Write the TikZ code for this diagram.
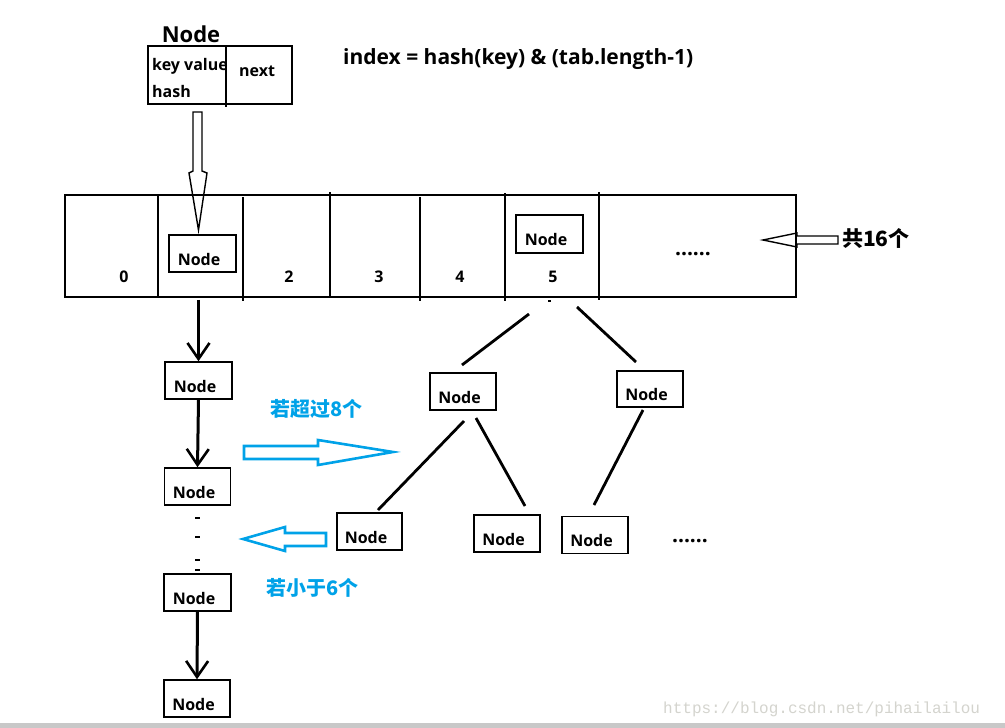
\documentclass[tikz,border=0pt]{standalone}
\usepackage{fontspec}
\setmainfont{Open Sans}
\newfontfamily\cjk{Noto Sans CJK SC}
\newfontfamily\wmfont{Liberation Mono}
\usetikzlibrary{arrows.meta}
\definecolor{pblue}{RGB}{0,162,232}
\definecolor{wmgray}{RGB}{212,212,206}
\definecolor{bargray}{RGB}{200,200,200}
\newcommand\ntxt{\raisebox{-11.5pt}[0pt][0pt]{Node}\kern7pt}
\begin{document}
\begin{tikzpicture}[x=1pt,y=-1pt,
  nd/.style={draw, line width=1.5pt, minimum width=66pt, minimum height=37pt, inner sep=0pt,
    font=\bfseries\fontsize{16}{16}\selectfont},
  lbl/.style={font=\bfseries\fontsize{16}{16}\selectfont, inner sep=0pt, anchor=base},
  cjkl/.style={font=\cjk\bfseries\fontsize{20}{20}\selectfont, inner sep=0pt, anchor=base west},
  thin/.style={line width=1.5pt},
  chain/.style={line width=3pt, -{Straight Barb[length=16pt,width=22pt,line width=2.6pt]}},
  treeline/.style={line width=2.8pt},
  hollow/.style={line width=1.4pt, line join=miter},
  bluearrow/.style={draw=pblue, line width=2.6pt, line join=miter}]
\useasboundingbox (0,0) rectangle (1005,728);
\fill[white] (0,0) rectangle (1005,728);
\fill[bargray] (0,723) rectangle (1005,728);

% top Node structure
\node[lbl, font=\bfseries\fontsize{22}{22}\selectfont] (title) at (191,42) {Node};
\node[draw, thin, minimum width=144pt, minimum height=58pt, inner sep=0pt] (nodebox) at (220,75) {};
\draw[thin] (226,46) coordinate (dvt) -- (226,107) coordinate (dvb);
\node[lbl, anchor=base west] (kv) at (152,70) {key value};
\node[lbl, anchor=base west] (hs) at (152,97) {hash};
\node[lbl, anchor=base west] (nx) at (239,76) {next};

% formula
\node[lbl, anchor=base west, font=\bfseries\fontsize{21}{21}\selectfont] (formula) at (343,64) {index = hash(key) \& (tab.length-1)};

% hollow down arrow
\draw[hollow] (193,112) -- (202,112) -- (202,171) -- (207,173) -- (198.5,230) -- (189,173) -- (193,171) -- cycle;

% array
\node[draw, thin, minimum width=731pt, minimum height=102pt, inner sep=0pt] (arr) at (430.5,246) {};
\foreach \xx/\ya/\yb in {158/194/298, 243/197/301, 330/192/297, 420/197/301, 505/193/301, 599/192/300}
  \draw[thin] (\xx,\ya) -- (\xx,\yb);
\node[lbl] (i0) at (124,282) {0};
\node[lbl] (i2) at (289,282) {2};
\node[lbl] (i3) at (379,282) {3};
\node[lbl] (i4) at (460,282) {4};
\node[lbl] (i5) at (553,282) {5};
\node[lbl, font=\bfseries\fontsize{21}{21}\selectfont] (adots) at (693,255) {......};
\node[nd, minimum width=67pt] (cell1) at (202.5,253.5) {\ntxt};
\node[nd, minimum width=67pt, minimum height=38pt] (cell5) at (549.5,234) {\ntxt};
\draw[thin] (548,301) -- (551,301);

% 16 label and arrow
\draw[hollow] (763,240) -- (797,233) -- (797,236) -- (838,236) -- (838,244) -- (797,244) -- (797,247) -- cycle;
\node[cjkl, font=\cjk\bfseries\fontsize{21}{21}\selectfont] (tot) at (842,246) {共16个};

% chain
\node[nd, minimum width=67pt] (c1) at (198.5,380.5) {\ntxt};
\node[nd] (c2) at (197.5,486.5) {\ntxt};
\node[nd, minimum width=67pt] (c3) at (197.5,592.5) {\ntxt};
\node[nd] (c4) at (197,698.5) {\ntxt};
\draw[chain] ([yshift=-2pt]arr.south -| c1.north) -- (c1.north);
\draw[chain] (c1.south) -- (c2.north);
\draw[chain] (c3.south) -- (c4.north);
\foreach \yy in {518,537,560,570}
  \draw[line width=2.6pt] (195,\yy) -- (200,\yy);

% blue arrows
\draw[bluearrow] (244,446) -- (318,446) -- (318,440) -- (393,452) -- (318,465) -- (318,459) -- (244,459) -- cycle;
\draw[bluearrow] (243,539) -- (285,527) -- (285,533) -- (326,533) -- (326,546) -- (285,546) -- (285,551) -- cycle;
\node[cjkl, text=pblue] (over8) at (270,416) {若超过8个};
\node[cjkl, text=pblue] (under6) at (266,595) {若小于6个};

% tree
\node[nd] (ta) at (463,391.5) {\ntxt};
\node[nd, minimum height=36pt] (tb) at (650,389) {\ntxt};
\node[nd, minimum width=65pt] (tc) at (369.5,531.5) {\ntxt};
\node[nd] (td) at (507,533.5) {\ntxt};
\node[nd] (te) at (595,535) {\ntxt};
\node[lbl, font=\bfseries\fontsize{21}{21}\selectfont] (tdots) at (690,542) {......};
\coordinate (r1a) at (529,314); \coordinate (r1b) at (462,365);
\coordinate (r2a) at (577,307); \coordinate (r2b) at (636,362);
\coordinate (acA) at (464,421); \coordinate (acB) at (378,510);
\coordinate (adA) at (476,418); \coordinate (adB) at (525,506);
\coordinate (beA) at (643,410); \coordinate (beB) at (594,505);
\draw[treeline] (r1a) -- (r1b);
\draw[treeline] (r2a) -- (r2b);
\draw[treeline] (acA) -- (acB);
\draw[treeline] (adA) -- (adB);
\draw[treeline] (beA) -- (beB);

% watermark
\node[inner sep=0pt, anchor=base west, text=wmgray, font=\wmfont\fontsize{16}{16}\selectfont] (wm) at (663,713) {https://blog.csdn.net/pihailailou};
\end{tikzpicture}
\end{document}
